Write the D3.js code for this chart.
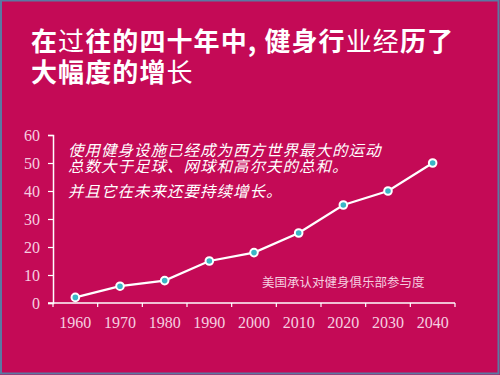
<!DOCTYPE html>
<html><head><meta charset="utf-8">
<script src="https://cdn.jsdelivr.net/npm/d3@7"></script>
<style>html,body{margin:0;padding:0;background:#c40a56;}</style>
</head><body>
<script>
const years = ["1960","1970","1980","1990","2000","2010","2020","2030","2040"];
const values = [2, 6, 8, 15, 18, 25, 35, 40, 50];
const yTicks = [0, 10, 20, 30, 40, 50, 60];
const titleLines = [
  [["在",1],["过",0],["往的四十年中, ",1],["健身行",1],["业经",0],["历了",1]],
  [["大幅度的增",1],["长",0]]
];
const noteLines = ["使用健身设施已经成为西方世界最大的运动", "总数大于足球、网球和高尔夫的总和。", "并且它在未来还要持续增长。"];
const sourceLabel = "美国承认对健身俱乐部参与度";

const W = 500, H = 375;
const svg = d3.select("body").append("svg").attr("width", W).attr("height", H);
svg.append("rect").attr("x",0).attr("y",0).attr("width",W).attr("height",H).attr("fill","#c40a56");
svg.append("rect").attr("x",1).attr("y",0.5).attr("width",W-2.5).attr("height",H-2).attr("fill","none").attr("stroke","#5a78a2").attr("stroke-width",2);

const cjk = "'Noto Sans CJK SC', 'Noto Sans', sans-serif";
const serif = "'Liberation Serif', 'DejaVu Serif', serif";

// title as one text element
const title = svg.append("text").attr("x", 31).attr("y", 51).attr("fill", "#fff")
  .attr("font-family", cjk).attr("font-size", 26).attr("letter-spacing", 1.1)
  .attr("xml:space", "preserve").style("white-space", "pre");
titleLines.forEach((line, i) => {
  line.forEach(([s, b], j) => {
    const ts = title.append("tspan").text(s).attr("font-weight", b ? "bold" : "normal");
    if (i > 0 && j === 0) ts.attr("x", 31).attr("dy", 31);
  });
});

const x = d3.scaleBand().domain(years).range([53, 455]);
const y = d3.scaleLinear().domain([0, 60]).range([303, 135]);

const axisColor = "#fff", labelColor = "#f6cfe0";
const gx = svg.append("g").attr("transform", "translate(0,303)")
  .call(d3.axisBottom(x).tickSize(0).tickPadding(14));
gx.select(".domain").remove();
gx.selectAll("text").attr("fill", labelColor).attr("font-family", serif).attr("font-size", 16);
const bounds = years.map(d => x(d)).concat([x.range()[1]]);
svg.append("line").attr("x1", 48).attr("x2", 455).attr("y1", 303).attr("y2", 303).attr("stroke", axisColor).attr("stroke-width", 1.5);
svg.selectAll(".xb").data(bounds).enter().append("line")
  .attr("x1", d => d).attr("x2", d => d).attr("y1", 303).attr("y2", 307)
  .attr("stroke", axisColor).attr("stroke-width", 1.2);

const gy = svg.append("g").attr("transform", "translate(53,0)")
  .call(d3.axisLeft(y).tickValues(yTicks).tickSize(5).tickPadding(8));
gy.select(".domain").attr("stroke", axisColor).attr("stroke-width", 1.5);
gy.selectAll(".tick line").attr("stroke", axisColor).attr("stroke-width", 1.2);
gy.selectAll("text").attr("fill", labelColor).attr("font-family", serif).attr("font-size", 16);

const line = d3.line().x((d, i) => x(years[i]) + x.bandwidth() / 2).y(d => y(d));
svg.append("path").datum(values).attr("d", line).attr("fill", "none").attr("stroke", "#fff").attr("stroke-width", 2.2);
svg.selectAll(".pt").data(values).enter().append("circle")
  .attr("cx", (d, i) => x(years[i]) + x.bandwidth() / 2).attr("cy", d => y(d))
  .attr("r", 3.8).attr("fill", "#3ab6c6").attr("stroke", "#fff").attr("stroke-width", 2);

// notes as one text element
const note = svg.append("text").attr("x", 68).attr("y", 156).attr("fill", "#fff")
  .attr("font-family", cjk).attr("font-size", 15.5).attr("letter-spacing", 1)
  .attr("font-style", "italic");
const ndy = [0, 16, 25];
noteLines.forEach((s, i) => {
  const ts = note.append("tspan").text(s);
  if (i > 0) ts.attr("x", 68).attr("dy", ndy[i]);
});

svg.append("text").attr("x", 262).attr("y", 287).attr("fill", "#f6cfe0")
  .attr("font-family", cjk).attr("font-size", 12.5).text(sourceLabel);
</script>
</body></html>
